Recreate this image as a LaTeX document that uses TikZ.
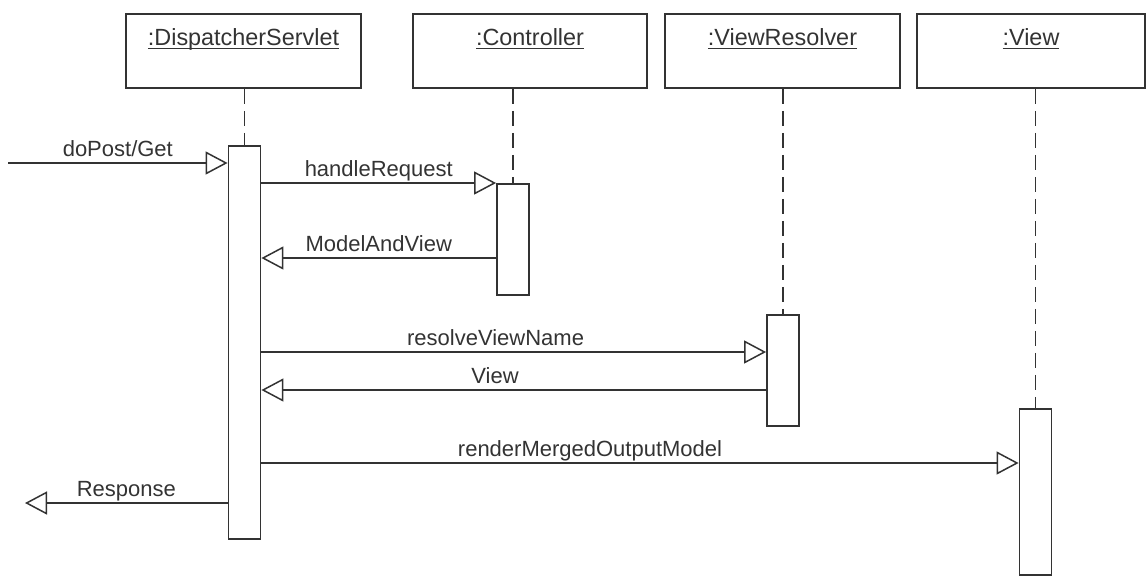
\documentclass[tikz,border=0pt]{standalone}
\usepackage{fontspec}
\setmainfont{Liberation Sans}
\usetikzlibrary{arrows.meta}

\begin{document}
\begin{tikzpicture}[x=0.5pt, y=-0.5pt,
    font=\fontsize{11}{13}\selectfont,
    msg/.style={-{Triangle[open,length=11pt,width=11.5pt]}, line width=0.75pt, draw=black!80},
    lifeline/.style={dash pattern=on 7.5pt off 3.5pt, line width=0.85pt, draw=black!80},
    object/.style={rectangle, draw=black!80, line width=0.9pt, inner sep=0pt,
    minimum width=117.5pt, text height=16pt, text depth=21pt, anchor=north, text=black!80,
    font=\fontsize{11.7}{14}\selectfont},
    activation/.style={rectangle, draw=black!80, fill=white, line width=0.9pt,
    inner sep=0pt, minimum width=16pt, anchor=north},
    lbl/.style={anchor=base, yshift=3.5pt, inner sep=0pt, text=black!80}
    ]
\clip (0,0) rectangle (1146,575);

\node[object] (DS) at (243.5,13) {\underline{\smash{:DispatcherServlet}}};
\node[object, minimum width=117pt] (Ctrl) at (530,13) {\underline{\smash{:Controller}}};
\node[object] (VR) at (782.5,13) {\underline{\smash{:ViewResolver}}};
\node[object, minimum width=114pt] (View) at (1031,13) {\underline{\smash{:View}}};

\node[activation, minimum height=196.5pt] (DSact) at (244.5,145) {};
\node[activation, minimum height=55.5pt] (Ctrlact) at (513,183) {};
\node[activation, minimum height=55.5pt] (VRact) at (783,314) {};
\node[activation, minimum height=83pt] (Viewact) at (1035.5,408) {};

\draw[lifeline] (DSact.north |- DS.south) -- (DSact.north);
\draw[lifeline] (Ctrlact.north |- Ctrl.south) -- (Ctrlact.north);
\draw[lifeline] (VRact.north |- VR.south) -- (VRact.north);
\draw[lifeline] (Viewact.north |- View.south) -- (Viewact.north);

\coordinate (caller) at (8,163);
\coordinate (mav) at (0,258);
\coordinate (rvn) at (0,352);
\coordinate (vw) at (0,390);
\coordinate (rmo) at (0,463);
\coordinate (back) at (25,503);

\draw[msg] (caller) -- node[lbl]{doPost/Get} (DSact.west |- caller);
\draw[msg] (DSact.east |- Ctrlact.north) -- node[lbl]{handleRequest} (Ctrlact.north west);
\draw[msg] (Ctrlact.west |- mav) -- node[lbl]{ModelAndView} (DSact.east |- mav);
\draw[msg] (DSact.east |- rvn) -- node[lbl, pos=0.464]{resolveViewName} (VRact.west |- rvn);
\draw[msg] (VRact.west |- vw) -- node[lbl, pos=0.537]{View} (DSact.east |- vw);
\draw[msg] (DSact.east |- rmo) -- node[lbl, pos=0.434]{renderMergedOutputModel} (Viewact.west |- rmo);
\draw[msg] (DSact.west |- back) -- node[lbl]{Response} (back);
\end{tikzpicture}
\end{document}
